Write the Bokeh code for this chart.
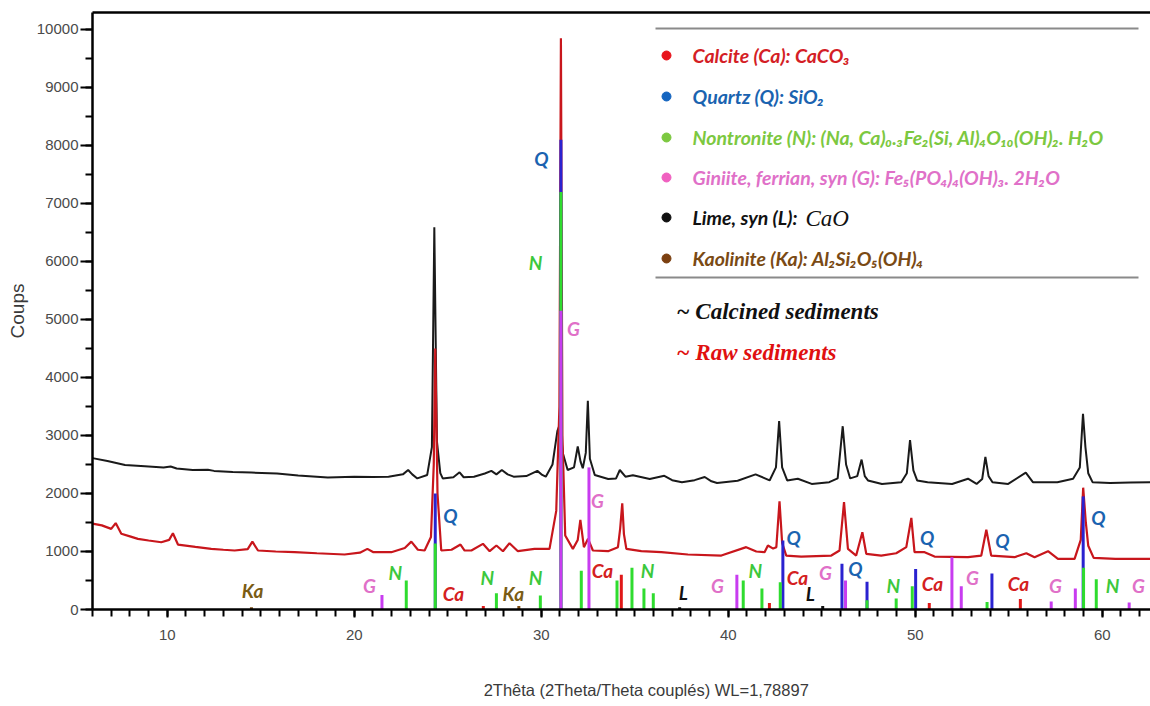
from bokeh.plotting import figure
from bokeh.models import FixedTicker, ColumnDataSource, LinearAxis
from bokeh.core.properties import value
from bokeh.embed import file_html
from bokeh.resources import INLINE

# ---------------- data ----------------
# Calcined sediments (black) : (2theta, counts)
calcined_x = [6.0, 6.8, 7.74, 8.8, 9.8, 10.18, 10.5, 11.36, 12.17, 12.5, 13.5, 14.5, 15.87, 17.0, 18.58,
              20.0, 21.0, 21.83, 22.6, 22.88, 23.1, 23.37, 23.9, 24.15, 24.28, 24.42, 24.6, 24.73, 25.3,
              25.63, 25.85, 26.4, 26.98, 27.33, 27.6, 27.89, 28.2, 28.52, 29.2, 29.79, 30.05, 30.24, 30.6,
              30.86, 31.0, 31.15, 31.41, 31.75, 31.95, 32.1, 32.22, 32.38, 32.49, 32.6, 32.86, 33.58, 34.0,
              34.2, 34.5, 34.9, 35.8, 36.58, 37.0, 37.52, 38.2, 38.74, 39.1, 39.4, 40.5, 41.46, 41.9, 42.21,
              42.55, 42.72, 42.88, 43.15, 43.72, 44.46, 45.4, 45.85, 46.12, 46.3, 46.52, 46.9, 47.13, 47.3,
              47.47, 48.22, 49.25, 49.55, 49.72, 49.9, 50.1, 50.66, 51.97, 52.82, 53.28, 53.58, 53.75, 53.92,
              54.13, 54.97, 55.91, 56.29, 57.6, 58.44, 58.8, 58.97, 59.1, 59.25, 59.48, 60.42, 61.5, 62.6]
calcined_y = [2610, 2560, 2490, 2470, 2450, 2465, 2430, 2405, 2410, 2390, 2370, 2360, 2346, 2310, 2276,
              2290, 2285, 2288, 2330, 2405, 2330, 2260, 2320, 2800, 6590, 2900, 2350, 2260, 2280,
              2365, 2280, 2290, 2345, 2390, 2330, 2405, 2330, 2290, 2300, 2390, 2320, 2290, 2500,
              3075, 3200, 2700, 2405, 2450, 2810, 2550, 2435, 2700, 3600, 2600, 2320, 2250, 2260,
              2405, 2290, 2315, 2250, 2305, 2230, 2195, 2230, 2285, 2210, 2180, 2220, 2330, 2270, 2225,
              2450, 3250, 2450, 2225, 2255, 2165, 2195, 2260, 3160, 2500, 2260, 2300, 2585, 2300,
              2225, 2165, 2195, 2350, 2920, 2400, 2225, 2195, 2165, 2255, 2165, 2250, 2630, 2300,
              2195, 2165, 2360, 2195, 2195, 2255, 2450, 3375, 2800, 2350, 2195, 2180, 2190, 2195]

# Raw sediments (red)
raw_x = [6.0, 6.5, 7.0, 7.24, 7.54, 8.0, 8.43, 9.0, 9.68, 10.1, 10.3, 10.57, 11.5, 12.35, 13.0, 13.6,
         14.3, 14.55, 14.85, 15.8, 16.81, 18.0, 19.48, 20.3, 20.7, 21.0, 21.98, 22.7, 23.05, 23.4, 23.76,
         24.1, 24.25, 24.33, 24.45, 24.65, 25.2, 25.68, 25.9, 26.26, 26.88, 27.24, 27.6, 27.95, 28.3,
         28.75, 29.64, 30.44, 30.8, 30.97, 31.05, 31.13, 31.28, 31.69, 31.95, 32.09, 32.28, 32.5, 32.76,
         33.57, 34.1, 34.22, 34.33, 34.42, 34.55, 35.35, 36.42, 37.84, 39.63, 40.96, 41.5, 41.94, 42.12,
         42.4, 42.57, 42.74, 42.88, 43.1, 43.9, 45.51, 45.95, 46.19, 46.4, 46.84, 47.17, 47.38, 48.18,
         48.98, 49.52, 49.79, 49.96, 50.5, 51.03, 52.82, 53.53, 53.8, 54.06, 55.31, 55.94, 56.38, 57.1,
         57.63, 58.52, 58.85, 58.98, 59.12, 59.25, 59.54, 60.7, 62.6]
raw_y = [1480, 1450, 1390, 1490, 1305, 1260, 1218, 1190, 1160, 1200, 1315, 1120, 1080, 1045, 1030, 1017,
         1040, 1170, 1017, 1000, 988, 970, 948, 980, 1045, 990, 988, 1060, 1170, 1030, 1017,
         1250, 2500, 4500, 2000, 1017, 1030, 1120, 1017, 1017, 1132, 1005, 1103, 1005, 1143,
         1005, 1045, 1045, 1700, 3500, 9850, 3000, 1275, 1045, 1200, 1545, 1075, 1218, 1017,
         1005, 1075, 1400, 1830, 1300, 1045, 1005, 988, 948, 930, 1075, 1000, 988, 1103,
         1050, 1075, 1867, 1150, 930, 913, 930, 1017, 1850, 1045, 930, 1333, 960, 930,
         970, 1075, 1580, 988, 988, 913, 902, 930, 1374, 930, 902, 970, 902, 1005,
         874, 874, 1200, 2100, 1505, 1100, 890, 874, 874]

# Reference patterns (stick positions and intensities)
calcite_pos = [26.9, 34.28, 42.2, 50.75, 55.62]
calcite_int = [60, 600, 110, 110, 180]
quartz_pos = [24.33, 31.05, 42.92, 46.08, 47.42, 50.02, 54.1, 58.98]
quartz_int = [2000, 8100, 1190, 790, 480, 700, 620, 1950]
nontronite_pos = [22.78, 24.33, 27.6, 29.95, 31.05, 32.14, 34.05, 34.85, 35.49, 35.99, 40.8, 41.8,
                  42.78, 47.42, 48.98, 49.84, 53.84, 59.0, 59.68]
nontronite_int = [500, 1140, 280, 240, 7200, 670, 500, 720, 360, 280, 500, 360,
                  470, 160, 190, 400, 130, 720, 520]
giniite_pos = [21.48, 31.05, 32.55, 40.46, 46.27, 51.96, 52.46, 57.27, 58.56, 61.44]
giniite_int = [250, 5150, 2450, 600, 500, 900, 400, 140, 360, 120]
lime_pos = [37.4, 45.05]
lime_int = [40, 60]
kaolinite_pos = [14.5, 28.8]
kaolinite_int = [40, 60]

# Peak annotations
peak_text = ["Ka", "G", "N", "Q", "Ca", "N", "Ka", "N", "Q", "N", "G", "G", "Ca", "N", "L", "G",
             "N", "Q", "Ca", "G", "L", "Q", "N", "Q", "Ca", "G", "Q", "Ca", "G", "Q", "N", "G"]
peak_tx = [14.56, 20.81, 22.2, 25.14, 25.3, 27.12, 28.51, 29.69, 30.01, 29.69, 31.72, 33.0, 33.27,
           35.68, 37.6, 39.42, 41.45, 43.49, 43.7, 45.2, 44.39, 46.8, 48.83, 50.64, 50.92, 53.06,
           54.66, 55.52, 57.5, 59.8, 60.55, 61.94]
peak_ty = [328, 414, 638, 1620, 276, 552, 276, 552, 7776, 5983, 4845, 1879, 672, 672, 293, 414,
           672, 1241, 552, 638, 276, 707, 414, 1247, 448, 552, 1190, 448, 414, 1586, 414, 414]

phase_names = ["Calcite (Ca): CaCO₃", "Quartz (Q): SiO₂",
               "Nontronite (N): (Na, Ca)₀.₃Fe₂(Si, Al)₄O₁₀(OH)₂. H₂O",
               "Giniite, ferrian, syn (G): Fe₅(PO₄)₄(OH)₃. 2H₂O",
               "Lime, syn (L): ", "Kaolinite (Ka): Al₂Si₂O₅(OH)₄"]

# ---------------- styles ----------------
X_START, X_END = 6.0, 62.58
Y_START, Y_END = 0, 10293
FRAME_L, FRAME_T, FRAME_W, FRAME_H = 92, 12, 1058, 597


def px2x(px):
    return X_START + (px - FRAME_L) * (X_END - X_START) / FRAME_W


def py2y(py):
    return Y_END - (py - FRAME_T) * (Y_END - Y_START) / FRAME_H


stick_colors = {"Ca": "#e01818", "Q": "#2a22d0", "N": "#2fdc2f", "G": "#c83cf0", "L": "#111111",
                "Ka": "#7a4a10"}
label_colors = {"Ca": "#d42020", "Q": "#1a63b0", "N": "#3cc83c", "G": "#e070c8", "L": "#111111",
                "Ka": "#7a5c14"}
legend_text_colors = ["#d41e26", "#1a63b0", "#7cc840", "#e070c8", "#111111", "#7a4a14"]
legend_dot_colors = ["#e8141c", "#1565c0", "#7cc840", "#f060c0", "#111111", "#7b3f10"]

p = figure(width=1150, height=706, output_backend="svg", toolbar_location=None,
           x_range=(X_START, X_END), y_range=(Y_START, Y_END),
           min_border_left=92, min_border_right=0, min_border_top=12, min_border_bottom=97)
p.grid.visible = False
p.outline_line_color = None
p.background_fill_color = "white"

AX_FONT = "'Liberation Sans Narrow', 'Liberation Sans', Arial, sans-serif"

p.xaxis.ticker = FixedTicker(ticks=[10, 20, 30, 40, 50, 60], minor_ticks=list(range(6, 63)))
p.yaxis.ticker = FixedTicker(ticks=list(range(0, 10001, 1000)), minor_ticks=list(range(0, 10001, 500)))
for ax in (p.xaxis[0], p.yaxis[0]):
    ax.axis_line_color = "black"
    ax.axis_line_width = 2.5
    ax.major_tick_line_color = "black"
    ax.minor_tick_line_color = "black"
    ax.major_tick_line_width = 2
    ax.minor_tick_line_width = 2
    ax.major_tick_in = 0
    ax.minor_tick_in = 0
    ax.major_label_text_font = AX_FONT
    ax.major_label_text_color = "#4a4a4a"
    ax.major_label_text_font_size = "15px"
    ax.axis_label_text_font = AX_FONT
    ax.axis_label_text_font_style = "normal"
    ax.axis_label_text_color = "#3a3a3a"

p.xaxis.major_tick_out = 8
p.xaxis.minor_tick_out = 7
p.xaxis.major_label_standoff = 12
# leading en-spaces shift the centred title right, where the original has it
p.xaxis.axis_label = "\u2002" * 6 + "2Thêta (2Theta/Theta couplés) WL=1,78897"
p.xaxis.axis_label_standoff = 38
p.xaxis.axis_label_text_font_size = "16.5px"

p.yaxis.major_tick_out = 12
p.yaxis.minor_tick_out = 7
p.yaxis.major_label_standoff = 2
p.yaxis.axis_label = "Coups"
p.yaxis.axis_label_standoff = 6
p.yaxis.axis_label_text_font_size = "19px"

# top frame line (axis without ticks or labels)
top_axis = LinearAxis(ticker=FixedTicker(ticks=[]), axis_line_color="black", axis_line_width=2.5,
                      major_tick_line_color=None, minor_tick_line_color=None,
                      major_label_text_font_size="0px", major_label_standoff=0)
p.add_layout(top_axis, "above")

# curves
p.line(calcined_x, calcined_y, line_color="#1a1a1a", line_width=2)
p.line(raw_x, raw_y, line_color="#c8161c", line_width=2.2)

# sticks, tallest first so shorter ones stay visible
sticks = []
for code, pos, inten in (("Ca", calcite_pos, calcite_int), ("Q", quartz_pos, quartz_int),
                         ("N", nontronite_pos, nontronite_int), ("G", giniite_pos, giniite_int),
                         ("L", lime_pos, lime_int), ("Ka", kaolinite_pos, kaolinite_int)):
    for xv, yv in zip(pos, inten):
        sticks.append((yv, xv, stick_colors[code]))
sticks.sort(key=lambda t: -t[0])
src = ColumnDataSource(dict(x=[s[1] for s in sticks], y1=[s[0] for s in sticks],
                            y0=[0] * len(sticks), c=[s[2] for s in sticks]))
p.segment(x0="x", y0="y0", x1="x", y1="y1", line_color="c", line_width=3, source=src)

# peak labels
p.text(x=peak_tx, y=peak_ty, text=peak_text, text_color=[label_colors[t] for t in peak_text],
       text_font=value("Lato"), text_font_style="bold italic", text_font_size="19px",
       text_align="center", text_baseline="middle")

# legend box lines
p.segment(x0=[px2x(655)] * 2, x1=[px2x(1138)] * 2, y0=[py2y(28), py2y(277)], y1=[py2y(28), py2y(277)],
          line_color="#8a8a8a", line_width=2)
rows = [55, 96, 137, 177, 217, 258]
p.scatter(x=[px2x(666)] * 6, y=[py2y(r) for r in rows], size=9, color=legend_dot_colors)
p.text(x=[px2x(692)] * 6, y=[py2y(r) for r in rows], text=phase_names, text_color=legend_text_colors,
       text_font=value("Lato"), text_font_style="bold italic", text_font_size="19.5px",
       text_baseline="middle")
p.text(x=[px2x(805)], y=[py2y(218)], text=["CaO"], text_color="#111111",
       text_font=value("Liberation Serif"), text_font_style="italic", text_font_size="23px",
       text_baseline="middle")
p.text(x=[px2x(676)] * 2, y=[py2y(311), py2y(352)], text=["~ Calcined sediments", "~ Raw sediments"],
       text_color=["#111111", "#e01010"], text_font=value("Liberation Serif"),
       text_font_style="bold italic", text_font_size="23px", text_baseline="middle")

open("out.html", "w").write(file_html(p, INLINE))
